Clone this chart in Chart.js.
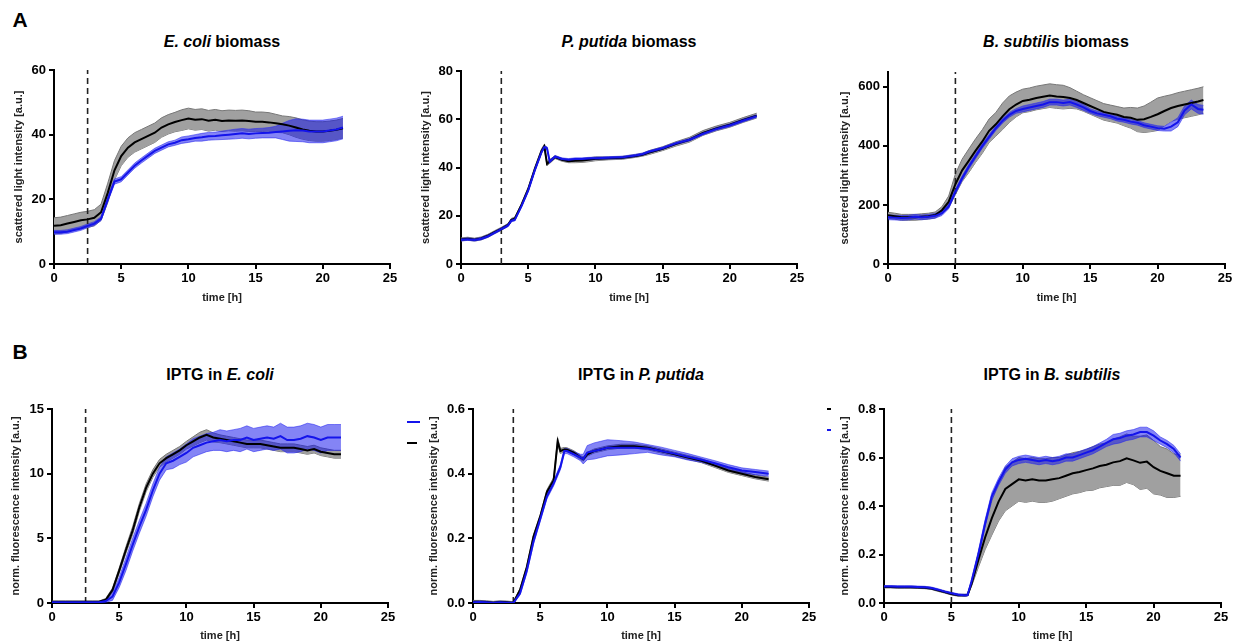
<!DOCTYPE html>
<html lang="en">
<head>
<meta charset="UTF-8" />
<title>Biomass and IPTG induction</title>
<style>
  body { margin: 0; width: 1238px; height: 644px; overflow: hidden; background: #fff; position: relative; font-family: "Liberation Sans", Arial, sans-serif; }
  canvas { position: absolute; }
  .letter { position: absolute; font-weight: bold; font-size: 21px; line-height: 21px; transform: translate(-50%, -50%); }
  .title { position: absolute; font-weight: bold; font-size: 16px; line-height: 16px; white-space: nowrap; transform: translate(-50%, -50%); }
  .frag { position: absolute; height: 2px; }
</style>
<script src="https://cdn.jsdelivr.net/npm/chart.js@4"></script>
</head>
<body>
<div class="letter" style="left:20px;top:19px">A</div>
<div class="letter" style="left:20px;top:351px">B</div>

<div class="title" style="left:222px;top:42px"><i>E. coli</i> biomass</div>
<div class="title" style="left:629px;top:42px"><i>P. putida</i> biomass</div>
<div class="title" style="left:1056px;top:42px"><i>B. subtilis</i> biomass</div>
<div class="title" style="left:220px;top:375px">IPTG in <i>E. coli</i></div>
<div class="title" style="left:641px;top:375px">IPTG in <i>P. putida</i></div>
<div class="title" style="left:1052px;top:375px">IPTG in <i>B. subtilis</i></div>

<!-- cut-off legend pieces of the original figure -->
<div class="frag" style="left:407px;top:421px;width:13px;background:rgb(20,20,235)"></div>
<div class="frag" style="left:407px;top:442px;width:10px;background:#000"></div>
<div class="frag" style="left:827px;top:408px;width:4px;background:#000"></div>
<div class="frag" style="left:827px;top:429px;width:4px;background:rgb(20,20,235)"></div>

<script>
// ---- A: E. coli biomass ----
const tA1 = [0,0.5,1,1.5,2,2.5,3,3.5,4,4.5,5,5.5,6,6.5,7,7.5,8,8.5,9,9.5,10,10.5,11,11.5,12,12.5,13,13.5,14,14.5,15,15.5,16,16.5,17,17.5,18,18.5,19,19.5,20,20.5,21,21.5];
const ecoliBioBlack = [11.8,12,12.5,13,13.5,13.8,14.3,16,22,29, 33.4,36,37.6,38.6,39.6,40.6,42.2,43.2,43.9,44.5, 45,44.6,44.8,44.3,44.6,44.2,44.4,44.3,44.4,44.2, 44,44,43.8,43.5,43.2,42.8,42.2,41.6,41.2,41, 41,41.2,41.5,42];
const ecoliBioBlackSd = [2.5,2.5,2.5,2.5,2.5,2.5,2.5,2.5,3,3, 3,3,3,3,3,3,3,3,3,3.2, 3.2,3.2,3.2,3.2,3.2,3.2,3.2,3.2,3.2,3.2, 3,3,3,2.8,2.6,2.8,3,3,3,3, 3,3,3,3];
const ecoliBioBlue = [9.8,9.8,10,10.5,11,11.8,12.5,14,20,25.5, 26.2,28.3,30.4,32,33.5,35,36,37,37.5,38.3, 38.6,39,39.2,39.5,39.6,39.8,40,40.2,40.4,40.2, 40.4,40.5,40.6,40.8,41,41.2,41.4,41.3,41,41, 41,41.3,41.6,42.2];
const ecoliBioBlueSd = [0.6,0.6,0.6,0.6,0.6,0.6,0.6,0.6,0.8,0.8, 0.8,0.8,0.8,0.8,0.8,0.8,0.8,0.8,0.8,1, 1,1,1.2,1.2,1.2,1.3,1.4,1.5,1.5,1.5, 1.5,1.5,1.6,1.8,2.5,3.2,3.5,3.5,3.5,3.5, 3.5,3.5,3.5,3.5];

// ---- A: P. putida biomass ----
const tA2 = [0,0.5,1,1.5,2,2.5,3,3.5,3.75,4,4.5,5,5.5,6,6.2,6.4,6.6,7,7.5,8,8.5,9,9.5,10,11,12,13,13.5,14,15,16,17,18,19,20,21,22];
const putidaBioBlack = [10.2,10.5,10.1,10.6,11.7,13.2,14.6,16.2,18.3,18.8, 24.5,31,39.5,47,48.8,41.5,42.5,44.3,43.2,42.6, 42.8,42.9,43.2,43.6,43.8,44,44.8,45.3,46.2,47.8, 49.8,51.5,54.3,56.2,57.7,59.7,61.5];
const putidaBioBlackSd = [0.6,0.6,0.6,0.6,0.6,0.6,0.6,0.6,0.6,0.6, 0.6,0.8,0.8,0.8,0.8,0.8,0.8,0.6,0.6,0.6, 0.8,0.8,0.8,0.8,0.6,0.6,0.6,0.6,0.8,0.8, 0.9,1,1,1,1,1,1];
const putidaBioBlue = [10,10.3,10,10.5,11.5,13,14.5,16,18,18.3, 24,30.5,39,46.5,48.5,48,42.5,44.5,43.5,43.2, 43.5,43.5,43.7,43.8,44,44.2,45,45.5,46.5,48, 50,51.5,54,56,57.5,59.5,61.3];
const putidaBioBlueSd = [0.5,0.5,0.5,0.5,0.5,0.5,0.5,0.5,0.5,0.5, 0.5,0.6,0.6,0.6,0.6,0.6,0.6,0.5,0.5,0.5, 0.5,0.5,0.5,0.5,0.5,0.5,0.5,0.5,0.5,0.5, 0.5,0.5,0.5,0.6,0.6,0.6,0.6];

// ---- A: B. subtilis biomass ----
const tA3 = [0,0.5,1,1.5,2,2.5,3,3.5,4,4.5,5,5.5,6,6.5,7,7.5,8,8.5,9,9.5,10,10.5,11,11.5,12,12.5,13,13.5,14,14.5,15,15.5,16,16.5,17,17.5,18,18.5,19,19.5,20,20.5,21,21.5,22,22.5,23,23.4];
const subtilisBioBlack = [165,162,158,158,158,160,162,166,182,210, 270,317,350,384,415,451,473,500,524,540, 552,556,562,566,570,567,565,562,555,545, 535,525,515,510,505,498,495,488,490,498, 507,518,528,535,540,545,550,555];
const subtilisBioBlackSd = [10,10,10,10,10,10,10,10,12,20, 35,38,40,40,40,40,40,45,45,42, 40,40,40,40,40,40,40,35,30,28, 28,28,28,28,28,30,35,40,45,50, 55,50,45,45,45,45,45,45];
const subtilisBioBlue = [158,157,156,157,160,158,160,163,172,195, 245,290,330,365,400,430,460,485,505,518, 525,530,535,540,548,548,545,548,540,530, 518,510,505,500,492,488,482,478,470,465, 460,458,465,480,520,540,525,522];
const subtilisBioBlueSd = [8,8,8,8,8,8,8,8,8,8, 8,8,8,8,8,8,8,8,8,8, 10,10,10,10,10,10,10,10,10,10, 8,8,8,8,8,8,8,8,8,8, 8,8,15,15,15,15,15,15];

// ---- B: IPTG in E. coli ----
const tB1 = [0,0.5,1,1.5,2,2.5,3,3.5,4,4.5,5,5.5,6,6.5,7,7.5,8,8.5,9,9.5,10,10.5,11,11.5,12,12.5,13,13.5,14,14.5,15,15.5,16,16.5,17,17.5,18,18.5,19,19.5,20,20.5,21,21.5];
const ecoliIptgBlack = [0.1,0.1,0.1,0.1,0.1,0.1,0.1,0.1,0.25,1, 2.5,4.1,5.6,7.4,8.9,10,10.8,11.2,11.5,11.8, 12.2,12.5,12.8,13,12.8,12.7,12.6,12.5,12.4,12.3, 12.3,12.3,12.2,12.1,12,12,12,11.9,11.8,11.9, 11.7,11.6,11.5,11.5];
const ecoliIptgBlackSd = [0.05,0.05,0.05,0.05,0.05,0.05,0.05,0.05,0.1,0.15, 0.2,0.25,0.3,0.3,0.3,0.3,0.3,0.3,0.3,0.3, 0.3,0.35,0.4,0.4,0.35,0.3,0.3,0.3,0.3,0.3, 0.3,0.3,0.3,0.3,0.3,0.3,0.3,0.3,0.3,0.3, 0.3,0.3,0.3,0.3];
const ecoliIptgBlue = [0.05,0.05,0.05,0.05,0.05,0.05,0.05,0.05,0.15,0.5, 1.6,3,4.5,5.9,7.2,8.7,10,10.8,11,11.3, 11.6,12,12.2,12.4,12.5,12.6,12.5,12.6,12.6,12.8, 12.6,12.7,12.8,12.7,12.9,12.6,12.6,12.7,12.9,12.8, 12.6,12.8,12.8,12.8];
const ecoliIptgBlueSd = [0.05,0.05,0.05,0.05,0.05,0.05,0.05,0.05,0.1,0.3, 0.4,0.5,0.5,0.5,0.5,0.5,0.5,0.5,0.6,0.6, 0.7,0.7,0.7,0.7,0.7,0.8,0.8,0.8,0.9,0.9, 0.9,0.9,0.9,0.9,1,1,1,1,1,1, 1,1,1,1];

// ---- B: IPTG in P. putida ----
const tB2 = [0,0.5,1,1.5,2,2.5,3,3.5,4,4.5,5,5.5,6,6.3,6.5,6.8,7,7.5,8,8.2,8.5,9,9.5,10,11,12,13,14,15,16,17,18,19,20,21,22];
const putidaIptgBlack = [0.004,0.004,0.003,0.001,0.003,0.002,0,0.04,0.11,0.205, 0.267,0.344,0.38,0.5,0.47,0.475,0.474,0.465,0.45,0.445, 0.46,0.47,0.475,0.48,0.485,0.485,0.48,0.47,0.46,0.45, 0.44,0.425,0.41,0.4,0.39,0.383];
const putidaIptgBlackSd = [0.004,0.004,0.004,0.004,0.004,0.004,0.004,0.005,0.006,0.006, 0.006,0.006,0.008,0.01,0.008,0.006,0.006,0.006,0.006,0.006, 0.006,0.006,0.006,0.006,0.006,0.006,0.006,0.006,0.006,0.006, 0.006,0.006,0.006,0.006,0.006,0.006];
const putidaIptgBlue = [0.002,0.003,0.002,0,0.002,0.001,0,0.03,0.1,0.19, 0.26,0.33,0.37,0.4,0.42,0.47,0.47,0.46,0.45,0.445, 0.465,0.47,0.475,0.48,0.48,0.48,0.478,0.47,0.462,0.452, 0.443,0.432,0.42,0.41,0.405,0.4];
const putidaIptgBlueSd = [0.003,0.003,0.003,0.003,0.003,0.003,0.003,0.005,0.008,0.008, 0.008,0.008,0.008,0.008,0.008,0.008,0.008,0.008,0.01,0.015, 0.022,0.025,0.025,0.025,0.022,0.018,0.012,0.012,0.01,0.01, 0.008,0.008,0.008,0.008,0.008,0.008];

// ---- B: IPTG in B. subtilis ----
const tB3 = [0,0.5,1,1.5,2,2.5,3,3.5,4,4.5,5,5.5,6,6.2,6.5,7,7.5,8,8.5,9,9.5,10,10.5,11,11.5,12,12.5,13,13.5,14,14.5,15,15.5,16,16.5,17,17.5,18,18.5,19,19.5,20,20.5,21,21.5,22];
const subtilisIptgBlack = [0.066,0.066,0.065,0.065,0.065,0.064,0.063,0.06,0.052,0.045, 0.037,0.032,0.032,0.033, 0.08,0.177,0.27,0.35,0.418,0.47,0.49,0.51,0.505,0.51, 0.505,0.505,0.51,0.515,0.525,0.535,0.54,0.548,0.555,0.565, 0.57,0.58,0.585,0.597,0.588,0.578,0.583,0.56,0.545,0.535, 0.525,0.525];
const subtilisIptgBlackSd = [0.004,0.004,0.004,0.004,0.004,0.004,0.004,0.004,0.004,0.004, 0.004,0.004,0.004,0.004, 0.01,0.03,0.05,0.07,0.08,0.09,0.09,0.09,0.09,0.09, 0.09,0.09,0.09,0.085,0.085,0.085,0.085,0.085,0.09,0.09, 0.09,0.095,0.1,0.1,0.1,0.11,0.11,0.11,0.1,0.1, 0.09,0.085];
const subtilisIptgBlue = [0.068,0.068,0.067,0.067,0.067,0.066,0.065,0.062,0.055,0.047, 0.04,0.034,0.032,0.033, 0.09,0.2,0.328,0.44,0.5,0.55,0.58,0.59,0.595,0.59, 0.585,0.59,0.585,0.59,0.6,0.6,0.61,0.62,0.63,0.645, 0.66,0.675,0.68,0.69,0.695,0.705,0.705,0.69,0.67,0.655, 0.635,0.6];
const subtilisIptgBlueSd = [0.004,0.004,0.004,0.004,0.004,0.004,0.004,0.004,0.004,0.004, 0.004,0.004,0.004,0.004, 0.01,0.015,0.015,0.015,0.015,0.015,0.015,0.015,0.015,0.015, 0.015,0.015,0.015,0.015,0.015,0.015,0.015,0.015,0.015,0.015, 0.015,0.02,0.02,0.02,0.02,0.02,0.02,0.02,0.015,0.015, 0.015,0.015];

// vertical dashed line = time of induction
const inductionA = [2.5, 3, 5];
const inductionB = [2.5, 3, 5];

const BLUE = 'rgb(20,20,235)';
Chart.defaults.font.family = '"Liberation Sans", Arial, sans-serif';
Chart.defaults.color = '#000';

function pts(t, v) { return t.map((x, i) => ({ x: x, y: v[i] })); }
function band(t, v, sd, sign) { return t.map((x, i) => ({ x: x, y: v[i] + sign * sd[i] })); }

function panel(p) {
  const yW = 50, xH = 42, padT = 12, padR = 20, lh = 11 * 1.2;
  const c = document.createElement('canvas');
  c.width = p.r - p.l + yW + padR;
  c.height = p.b - p.top + padT + xH;
  c.style.left = (p.l - yW) + 'px';
  c.style.top = (p.top - padT) + 'px';
  document.body.appendChild(c);

  const line = { pointRadius: 0, tension: 0, fill: false };
  new Chart(c, {
    type: 'line',
    data: {
      datasets: [
        { ...line, data: band(p.time, p.black, p.blackSd, 1), fill: '+1', backgroundColor: '#a0a0a0', borderColor: '#777', borderWidth: 1, order: 4 },
        { ...line, data: band(p.time, p.black, p.blackSd, -1), borderColor: '#777', borderWidth: 1, order: 4 },
        { ...line, data: band(p.time, p.blue, p.blueSd, 1), fill: '+1', backgroundColor: 'rgba(20,20,235,0.52)', borderColor: 'rgba(40,40,240,0.55)', borderWidth: 1, order: 3 },
        { ...line, data: band(p.time, p.blue, p.blueSd, -1), borderColor: 'rgba(40,40,240,0.55)', borderWidth: 1, order: 3 },
        { ...line, data: [{ x: p.dash, y: 0 }, { x: p.dash, y: p.yMax }], borderColor: '#222', borderWidth: 1.6, borderDash: [6, 4], order: 2 },
        { ...line, data: pts(p.time, p.black), borderColor: '#000', borderWidth: 2, order: 1 },
        { ...line, data: pts(p.time, p.blue), borderColor: BLUE, borderWidth: 2, order: 0 }
      ]
    },
    options: {
      responsive: false,
      animation: false,
      devicePixelRatio: 1,
      layout: { padding: { left: 0, top: padT, right: padR, bottom: 0 } },
      plugins: { legend: { display: false }, tooltip: { enabled: false } },
      scales: {
        x: {
          type: 'linear', min: 0, max: 25,
          afterFit: s => { s.height = xH; },
          grid: { drawOnChartArea: false, tickLength: 5, color: '#000', lineWidth: 2 },
          border: { color: '#000', width: 2 },
          ticks: { stepSize: 5, maxRotation: 0, padding: 2, font: { size: 13, weight: 'bold' } },
          title: { display: true, text: 'time [h]', color: '#222', font: { size: 11, weight: 'bold' },
                   padding: { top: 0, bottom: xH - p.xDist - lh / 2 } }
        },
        y: {
          type: 'linear', min: 0, max: p.yMax,
          afterFit: s => { s.width = yW; },
          afterBuildTicks: s => { s.ticks = s.ticks.filter(t => Math.abs(t.value / p.yStep - Math.round(t.value / p.yStep)) < 1e-6); },
          grid: { drawOnChartArea: false, tickLength: 5, color: '#000', lineWidth: 2 },
          border: { color: '#000', width: 2 },
          ticks: { stepSize: p.yStep, padding: 3, font: { size: 13, weight: 'bold' },
                   callback: v => v.toFixed(p.dec) },
          title: { display: true, text: p.yLabel, color: '#222', font: { size: 11, weight: 'bold' },
                   padding: { top: yW - p.yDist - lh / 2, bottom: 0 } }
        }
      }
    }
  });
}

const bioLabel = 'scattered light intensity [a.u.]';
const fluoLabel = 'norm. fluorescence intensity [a.u.]';

panel({ l: 54, top: 70, r: 390, b: 264, yMax: 60, yStep: 20, dec: 0, dash: inductionA[0], yLabel: bioLabel, yDist: 35, xDist: 34,
        time: tA1, black: ecoliBioBlack, blackSd: ecoliBioBlackSd, blue: ecoliBioBlue, blueSd: ecoliBioBlueSd });
panel({ l: 461, top: 71, r: 797, b: 264, yMax: 80, yStep: 20, dec: 0, dash: inductionA[1], yLabel: bioLabel, yDist: 35, xDist: 34,
        time: tA2, black: putidaBioBlack, blackSd: putidaBioBlackSd, blue: putidaBioBlue, blueSd: putidaBioBlueSd });
panel({ l: 888, top: 72, r: 1225, b: 264, yMax: 650, yStep: 200, dec: 0, dash: inductionA[2], yLabel: bioLabel, yDist: 43, xDist: 34,
        time: tA3, black: subtilisBioBlack, blackSd: subtilisBioBlackSd, blue: subtilisBioBlue, blueSd: subtilisBioBlueSd });
panel({ l: 52, top: 409, r: 388, b: 603, yMax: 15, yStep: 5, dec: 0, dash: inductionB[0], yLabel: fluoLabel, yDist: 36, xDist: 32.5,
        time: tB1, black: ecoliIptgBlack, blackSd: ecoliIptgBlackSd, blue: ecoliIptgBlue, blueSd: ecoliIptgBlueSd });
panel({ l: 473, top: 409, r: 809, b: 603, yMax: 0.6, yStep: 0.2, dec: 1, dash: inductionB[1], yLabel: fluoLabel, yDist: 39, xDist: 32.5,
        time: tB2, black: putidaIptgBlack, blackSd: putidaIptgBlackSd, blue: putidaIptgBlue, blueSd: putidaIptgBlueSd });
panel({ l: 884, top: 409, r: 1221, b: 603, yMax: 0.8, yStep: 0.2, dec: 1, dash: inductionB[2], yLabel: fluoLabel, yDist: 39, xDist: 32.5,
        time: tB3, black: subtilisIptgBlack, blackSd: subtilisIptgBlackSd, blue: subtilisIptgBlue, blueSd: subtilisIptgBlueSd });
</script>
</body>
</html>
